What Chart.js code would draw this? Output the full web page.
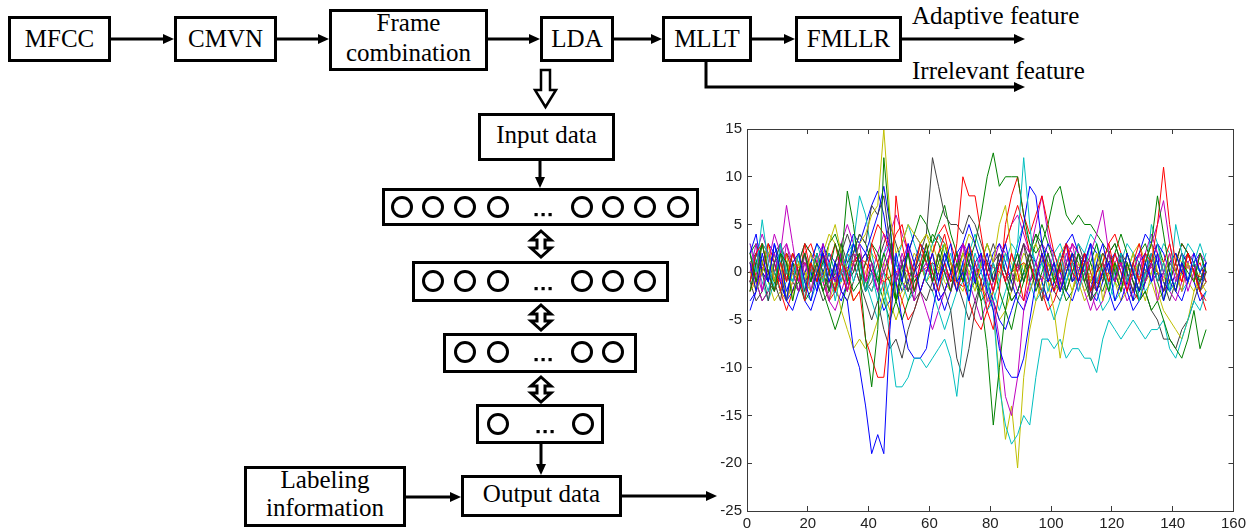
<!DOCTYPE html>
<html><head><meta charset="utf-8">
<script src="https://cdn.jsdelivr.net/npm/chart.js@4"></script>
<style>
html,body{margin:0;padding:0;background:#fff;}
body{width:1255px;height:530px;position:relative;overflow:hidden;}
#diagram{position:absolute;left:0;top:0;}
#chartBox{position:absolute;left:690px;top:100px;width:565px;height:430px;}
</style></head><body>
<svg id="diagram" width="1255" height="530" xmlns="http://www.w3.org/2000/svg">
<g fill="none" stroke="#000" stroke-width="3">
<rect x="9.5" y="17.5" width="100" height="43"/>
<rect x="175.5" y="17.5" width="100" height="43"/>
<rect x="330.5" y="10.5" width="156" height="59"/>
<rect x="541.5" y="17.5" width="71" height="43"/>
<rect x="663.5" y="17.5" width="87" height="43"/>
<rect x="796.5" y="17.5" width="104" height="43"/>
<rect x="479.5" y="114.5" width="134" height="45"/>
<rect x="383.5" y="189.5" width="314" height="35"/>
<rect x="413.5" y="262.5" width="254" height="38"/>
<rect x="444.5" y="334.5" width="191" height="37"/>
<rect x="477.5" y="405.5" width="125" height="37"/>
<rect x="462.5" y="476.5" width="158" height="39"/>
<rect x="245.5" y="467.5" width="159" height="58"/>
</g>
<g id="arrows"></g>
<g id="circles" fill="none" stroke="#000" stroke-width="3"></g>
<g id="dots" fill="#000"></g>
</svg>
<div id="labels"></div>
<div id="chartBox"><canvas id="c" width="565" height="430"></canvas></div>
<script>
// ---------- chart data ----------
var xValues = [1,3,5,7,9,11,13,15,17,19,21,23,25,27,29,31,33,35,37,39,
41,43,45,47,49,51,53,55,57,59,61,63,65,67,69,71,73,75,77,79,
81,83,85,87,89,91,93,95,97,99,101,103,105,107,109,111,113,115,117,119,
121,123,125,127,129,131,133,135,137,139,141,143,145,147,149,151];
var xTicks = [0,20,40,60,80,100,120,140,160];
var yTicks = [-25,-20,-15,-10,-5,0,5,10,15];

var s01 = [1,-2,2,-1,3,0,-3,1,2,-1, -3,0,2,-1,1,-2,-3,-8,-10,-14, -19,-17,-19,-6,2,-1,3,1,-2,0, 2,-1,1,3,-1,0,-3,1,2,-2, -4,-8,-10,-11,-11,-9,-5,-1,2,-1, 1,-2,0,2,-1,1,3,-2,0,1, -3,-1,2,0,-2,1,-1,2,-3,0, -2,1,-1,2,0,1];
var s02 = [2,-1,3,0,-2,2,1,-3,0,2, -1,1,-2,0,3,1,8.5,5,0,-7, -12,-6,12,5,-3,-1,2,-2,0,3, -1,2,0,-2,1,-1,2,0,-3,-8, -16,-10,-4,0,2,-1,1,-2,0,2, -1,1,-2,0,2,-1,1,3,0,-2, 1,-1,2,0,-2,1,3,8,4,0, -2,1,0,-1,2,0];
var s03 = [-1,2,3,0,-2,1,-1,2,0,-3, 1,-1,2,0,-2,1,0,-3,-2,-7, -9,-11,-11,-5,8,3,0,-2,1,3, 0,-2,1,-1,3,10,8,8,4,0, -2,1,-1,2,0,-3,1,-1,2,0, -2,1,3,0,-1,2,-2,0,1,-1, 2,0,-2,1,-1,2,1,5,11,5, 1,-1,2,0,-2,-3];
var s04 = [2,0,5.5,1,-2,3,0,-1,2,-3, 0,2,-1,1,-3,0,2,-1,1,-2, 0,-3,-1,-7,-12,-12,-11,-9,-9,-10, -9,-8,-7,-9,-13,-7,-1,2,0,-2, 1,-1,2,0,3,12,5,-1,1,-2, 0,2,-1,1,-2,0,3,-1,1,-2, 0,2,-1,1,-3,0,2,-1,1,-2, 5,2,-1,1,0,2];
var s05 = [0,3,-2,1,4,2,7,3,-1,2, -2,1,3,0,-1,2,-2,1,3,-1, 1,-2,0,2,-1,1,3,-2,0,1, -1,2,0,-2,1,3,-1,0,2,-3, -3,-7,-13,-15,-11,-4,-1,1,-1,2, 0,-2,1,3,0,-1,2,4,6.5,2, -1,1,-2,0,2,-1,1,-3,0,2, -1,1,-2,0,2,1];
var s06 = [1,-2,0,2,-1,1,-3,0,2,-1, 2,0,-1,3,5,2,0,1,3,4, 6,7,15,6,2,3,5,4,3,4, 2,0,3,1,-1,2,0,-2,1,3, 1,5,7,2,-1,1,-2,0,2,-1, -4,-9,-5,-2,0,1,-1,2,0,-2, 1,-1,2,0,-2,1,3,0,-1,2, 0,-2,1,-1,2,0];
var s07 = [-1,2,0,-3,1,3,-1,2,0,-2, 1,-1,2,0,-2,3,1,2,4,3, 7,6,8,3,-1,1,-2,0,2,4, 12,9,6,5,5,4,6,5,3,1, -1,2,0,-2,1,3,-1,0,2,-1, 1,-2,0,2,-1,1,-3,0,2,1, -1,2,0,-2,1,-1,2,0,-2,1, 0,2,-1,1,-2,0];
var s08 = [2,4,0,-1,3,1,-2,0,2,-1, 0,-2,3,1,-1,2,0,3,1,2, 4,6,9,5,-1,-5,-8,-9,-9,-8, -4,-1,2,0,-2,1,3,-1,0,2, -1,1,3,0,2,5,9,8,3,0, -2,1,3,-1,0,2,-2,1,3,0, -1,2,0,-3,1,2,-1,0,-2,1, 2,0,-1,1,-2,1];
var s09 = [-2,1,3,0,-1,2,-3,1,0,2, -1,2,0,-2,1,3,-1,0,2,-2, 1,-1,2,0,-3,1,2,-1,0,2, -1,1,3,0,2,-1,1,3,6,10, 12.5,9,10,10,10,6,3,2,3,5, 8,9,6,5,6,5,5,4,3,2, 0,-2,1,-1,-3,-2,-4,-3,-5,-7, -8,-9,-7,-4,-8,-6];
var s10 = [2,-1,0,3,1,-2,2,0,-1,3, 0,2,-1,1,3,0,-2,1,2,-1, 3,1,-2,2,4,5,2,0,3,1, -1,2,4,1,-2,0,3,1,-1,-4, -6,-2,5,8,10,6,4,6,8,5, 2,0,3,1,-1,2,0,-2,1,3, 0,2,-1,1,3,0,2,-1,1,3, 0,-1,2,0,1,-1];
var s11 = [-1,2,0,-2,1,3,0,-1,2,-2, 1,-1,2,0,-2,1,-1,3,8,6, 2,-1,0,-3,-1,1,-2,0,2,-1, 1,-2,0,2,-1,1,-3,0,1,-1, -4,-12,-16,-18,-17,-15,-16,-11,-7,-7, -8,-7,-9,-8,-8,-9,-9,-10.5,-7,-5, -6,-7,-6,-5,-6,-7,-6,-6,-5,-8, -9,-7,-5,-3,-4,-2];
var s12 = [3,0,-2,1,2,-1,3,0,-2,1, -1,2,0,-3,1,2,-1,0,2,-2, 0,-2,1,3,-1,2,0,-3,1,0, 2,-1,1,-2,0,3,1,-1,2,0, -2,1,-1,2,0,3,2,5,8,4, 1,-1,2,0,-2,1,3,-1,0,2, -1,1,-2,0,2,1,3,5,7.5,3, 0,-2,1,-1,2,0];
var s13 = [0,-2,1,3,-1,0,2,-3,1,0, -2,1,0,-3,-1,-4,-6,-8,-7,-8, -7,-5,-2,-4,-1,1,-2,0,3,1, -1,2,0,-2,1,-1,3,0,-2,-1, -4,-11,-17.5,-14,-20.5,-11,-6,-3,-1,1, -1,2,0,-2,1,-1,0,2,-3,0, 1,-2,0,2,-1,-3,0,-2,-4,-5, -6,-7,-5,-2,-1,-2];
var s14 = [-2,1,0,2,-1,-3,1,0,-2,2, 0,-1,2,-2,1,0,-2,1,-1,-3, -5,-3,-6,-8,-7,-9,-6,-4,-2,-3, -1,0,-2,-4,-9,-11,-8,-4,-1,1, -1,2,0,-2,1,-1,2,0,-3,1, 0,-2,1,-1,2,0,-3,1,-1,2, 0,-2,1,-1,-3,-2,-4,-5,-7,-7, -8,-6,-5,-3,-1,1];
var s15 = [-3,-2,0,2,1,-1,-3,-4,-2,0, 1,3,2,0,-2,-3,-1,1,3,2, 0,-2,-4,-3,-1,1,2,4,3,1, -1,-3,-2,0,2,3,1,-1,-2,0, 2,3,1,-1,-3,-4,-2,0,1,3, 2,0,-2,-3,-1,1,3,2,0,-2, -4,-3,-1,1,2,4,3,1,-1,-2, 0,2,1,-1,-3,-2];
var s16 = [2,3,1,-1,-2,0,2,1,-1,-3, -2,0,1,3,4,2,0,-2,-1,1, 3,2,0,-1,-3,-5,-3,-1,0,2, 4,3,1,-1,0,2,1,-1,-3,-2, 0,1,-1,-3,-2,0,2,4,3,1, -1,-2,0,2,1,-1,-3,-2,0,2, 3,1,-1,0,2,3,1,-1,-3,-1, 1,3,2,0,-1,1];
var s17 = [0.5,1,0.5,0,-0.5,-1,-0.5,0,0.5,1, 0.5,0,-0.5,-1,-0.5,0,0.5,1,1.5,1, 0,-0.5,-1,-0.5,0,0.5,0,-0.5,0,0.5, 1,0.5,0,-0.5,-1,-1.5,-1,0,0.5,1, 0.5,0,-0.5,0,0.5,1,0.5,0,-0.5,-1, -0.5,0,0.5,1,0.5,0,-0.5,-1,-0.5,0, 0.5,1,0.5,0,-0.5,0,0.5,0,-0.5,-1, -0.5,0,0.5,0,-0.5,0];
var s18 = [-1,1,3,2,0,-2,-1,1,0,-2, -3,-1,1,2,0,-1,1,3,1,-1, -2,0,2,3,1,-1,-3,-2,0,1, 3,4,2,0,-2,-1,1,0,-2,-4, -3,-1,1,3,2,0,-1,-3,-2,0, 2,3,1,-1,0,2,4,3,1,-1, -3,-2,0,2,1,-1,5,3,0,-2, -1,1,3,2,0,-1];
var s19 = [1,-1,-3,-2,0,2,3,1,-1,0, 2,1,-1,-3,-4,-2,0,2,1,-1, 0,2,4,3,1,-1,-2,0,2,1, -1,-3,-2,0,1,3,2,0,-2,-1, 1,3,2,0,-2,-3,-1,1,3,2, 0,-1,1,3,2,0,-2,-4,-3,-1, 1,2,0,-2,-1,1,3,2,0,-2, -3,-1,1,2,0,-1];
var s20 = [-2,-1,1,2,0,-2,-3,-1,1,0, -1,1,2,0,-2,-1,1,2,1,-1, -2,0,1,-1,-3,-2,0,2,1,-1, 0,2,3,1,-1,-2,0,1,-1,-3, -2,0,2,1,-1,0,2,3,1,-1, -2,-1,1,2,0,-2,-1,1,2,0, -1,-3,-2,0,1,-1,0,2,1,-1, -2,0,1,-1,-2,-1];
var s21 = [1,2,0,-1,1,2,0,-2,-1,1, 0,-1,1,2,0,-2,-3,-1,1,2, 1,-1,0,2,1,-1,-2,0,1,-1, -2,0,2,1,-1,0,1,-1,-2,0, 1,2,0,-1,1,3,1,-1,-2,0, 1,-1,-2,0,2,1,-1,0,1,-1, 0,2,1,-1,-2,0,1,-1,0,1, 2,0,-1,1,0,-1];
var s22 = [-4,-2,1,3,2,-1,-3,-2,0,-3, -4,-2,0,2,1,-1,2,4,3,5, 7,8.5,6,2,0,-2,-1,1,3,2, 0,-2,-4,-2,1,3,5,3,1,-1, -3,-5,-6,-4,-2,0,2,1,-1,-3, -1,1,3,4,2,0,-2,-3,-1,1, 2,0,-2,-4,-3,-1,1,3,2,0, -2,-3,-1,1,2,0];
var s23 = [1,-1,-3,-2,0,2,1,-1,1,3, 2,0,-2,-4,-6,-4,-1,2,4,3, 1,-1,-3,-5,-3,0,2,4,6,5, 3,5,7,4,2,0,-2,-1,1,3, 1,-2,-4,-6,-3,-1,1,3,5,3, 1,-1,-3,-2,0,2,1,-1,-2,0, 2,4,2,0,-2,-1,1,3,1,-1, -2,0,2,1,-1,0];
var s24 = [-2,0,3,2,0,-2,-4,-2,0,2, 3,1,-1,-3,-2,0,2,1,-1,1, 3,5,4,2,-1,-3,-5,-4,-2,0, 2,4,5,3,1,-1,-3,-5,-6,-4, -2,1,3,5,7,5,2,0,-2,-4, -3,-1,1,3,2,0,-2,-1,1,3, 4,2,0,-2,-3,-1,1,0,-2,-1, 1,3,2,0,-2,-4];
var s25 = [3,1,-1,-3,-1,1,2,0,-2,-1, 1,3,1,-1,-2,0,2,3,1,-1, -3,-5,-3,-1,1,3,5,3,1,-1, -2,-4,-6,-4,-2,0,2,4,2,0, -2,-4,-2,0,3,5,3,1,-1,-3, -5,-3,-1,1,3,2,0,-2,-4,-3, -1,1,3,2,0,-2,-1,1,3,2, 0,-2,-1,1,3,1];
var s26 = [-1,2,4,2,0,-2,-3,-1,1,3, 2,0,-2,-1,1,3,5,3,1,-1, -2,0,2,4,6,4,2,0,-2,-4, -6,-4,-2,0,2,1,-1,-3,-5,-3, -1,1,3,5,6,4,2,0,-2,-3, -1,1,3,2,0,-2,-4,-2,0,2, 1,-1,-3,-2,0,2,4,2,0,-1, 1,3,2,0,-2,-1];
var s27 = [0,2,1,-1,-3,-2,0,2,1,-1, -2,0,2,4,3,1,-1,-3,-2,0, 2,1,-1,-3,-5,-3,-1,1,3,4, 3,1,-1,-2,0,2,4,3,1,-1, -3,-5,-4,-2,0,2,1,-1,-3,-2, 0,2,3,1,-1,-3,-2,0,2,1, -1,-2,0,2,3,1,-1,-3,-2,0, 2,1,-1,-2,0,1];
var s28 = [-1,-3,-2,0,2,3,1,-1,-2,0, 1,-1,-3,-2,0,2,4,2,0,-2, -1,1,3,5,3,1,-1,-3,-2,0, 2,4,3,1,-1,-3,-5,-3,-1,1, 3,1,-1,-3,-2,0,2,4,2,0, -2,-3,-1,1,3,1,-1,-2,0,2, 3,1,-1,-3,-2,0,2,1,-1,-3, -1,1,2,0,-2,-1];

var seriesList = [s01,s02,s03,s04,s05,s06,s07,s08,s09,s10,s11,s12,s13,s14,s15,s16,s17,s18,s19,s20,s21,s22,s23,s24,s25,s26,s27,s28];
var palette = ['#0000ff','#008000','#ff0000','#00bfbf','#bf00bf','#bfbf00','#404040'];

// ---------- diagram labels ----------
var SERIF = "font-family:'Liberation Serif',serif;font-size:25px;line-height:30px;color:#000;white-space:nowrap;position:absolute;";
var labelSpecs = [
  ['MFCC',59.5,24,1],['CMVN',225.5,24,1],['Frame',408.5,8,1],['combination',408.5,38,1],
  ['LDA',577,24,1],['MLLT',707,24,1],['FMLLR',848.5,24,1],
  ['Adaptive feature',912,1,0],['Irrelevant feature',912,56,0],
  ['Input data',546.5,120,1],['Output data',541.5,479,1],['Labeling',325,465,1],['information',325,493,1]
];
(function(){
  var host=document.getElementById('labels');
  for(var i=0;i<labelSpecs.length;i++){
    var s=labelSpecs[i]; var d=document.createElement('div');
    d.textContent=s[0];
    d.setAttribute('style',SERIF+'left:'+s[1]+'px;top:'+s[2]+'px;'+(s[3]?'transform:translateX(-50%);':''));
    host.appendChild(d);
  }
})();

// ---------- diagram decorations ----------
var NS='http://www.w3.org/2000/svg';
function svgEl(tag,attrs,parent){var e=document.createElementNS(NS,tag);for(var k in attrs)e.setAttribute(k,attrs[k]);parent.appendChild(e);return e;}
(function(){
  var ga=document.getElementById('arrows');
  function harrow(x1,x2,y){svgEl('line',{x1:x1,y1:y,x2:x2-9,y2:y,stroke:'#000','stroke-width':3},ga);svgEl('polygon',{points:x2+','+y+' '+(x2-11)+','+(y-5)+' '+(x2-11)+','+(y+5),fill:'#000'},ga);}
  function varrow(x,y1,y2){svgEl('line',{x1:x,y1:y1,x2:x,y2:y2-9,stroke:'#000','stroke-width':3},ga);svgEl('polygon',{points:x+','+y2+' '+(x-5)+','+(y2-11)+' '+(x+5)+','+(y2-11),fill:'#000'},ga);}
  harrow(111,174,39); harrow(277,329,39); harrow(488,540,39); harrow(614,662,39);
  harrow(752,795,39); harrow(902,1025,39);
  svgEl('polyline',{points:'706,62 706,87 1016,87',fill:'none',stroke:'#000','stroke-width':3},ga);
  svgEl('polygon',{points:'1025,87 1014,82 1014,92',fill:'#000'},ga);
  svgEl('polygon',{points:'541,70 550,70 550,90 556,90 545.5,107 535,90 541,90',fill:'#fff',stroke:'#000','stroke-width':2.5},ga);
  varrow(540,161,188);
  function darrow(cx,t,b){var p=[[cx,t],[cx+10,t+9],[cx+4,t+9],[cx+4,b-9],[cx+10,b-9],[cx,b],[cx-10,b-9],[cx-4,b-9],[cx-4,t+9],[cx-10,t+9]];
    svgEl('polygon',{points:p.map(function(q){return q[0]+','+q[1];}).join(' '),fill:'#fff',stroke:'#000','stroke-width':3},ga);}
  darrow(541,231,257); darrow(541,305,330); darrow(541,377,402);
  varrow(541,444,475);
  harrow(406,461,497);
  harrow(622,717,496);
  var gc=document.getElementById('circles');
  var gd=document.getElementById('dots');
  var layers=[[207,[402,433,465,498,582,613,645,678],543],[281,[433,465,498,582,613,645],543],[352,[465,498,582,613],543],[424,[498,583],545]];
  layers.forEach(function(L){var cy=L[0],dx=L[2];L[1].forEach(function(cx){svgEl('circle',{cx:cx,cy:cy,r:9.5},gc);});[-7,0,7].forEach(function(o){svgEl('rect',{x:dx+o-1.5,y:cy+6,width:3.2,height:3.2},gd);});});
})();

// ---------- chart ----------
var datasets = seriesList.map(function(ys,i){
  return {
    data: ys.map(function(y,j){return {x:xValues[j], y:y};}),
    borderColor: palette[i%palette.length],
    borderWidth: 1,
    pointRadius: 0,
    tension: 0,
    fill: false
  };
});

var frameColor = '#3a3a3a';
var tickFont = {family:'Liberation Sans', size:15};
// inward tick marks (negative tickLength) + axis borders drawn by Chart.js itself
var innerGrid = {display:true, drawOnChartArea:false, drawTicks:true, tickLength:-5, color:frameColor, lineWidth:1};
var axisBorder = {display:true, color:frameColor, width:1};

var framePlugin = {
  id:'frame',
  afterDraw:function(chart){
    var ctx=chart.ctx, a=chart.chartArea;
    ctx.save();
    ctx.strokeStyle=frameColor; ctx.lineWidth=1;
    ctx.strokeRect(Math.round(a.left)+0.5, Math.round(a.top)+0.5, Math.round(a.right-a.left), Math.round(a.bottom-a.top));
    ctx.restore();
  }
};

var chart = new Chart(document.getElementById('c'), {
  type:'line',
  data:{datasets:datasets},
  options:{
    responsive:false, animation:false, devicePixelRatio:1,
    layout:{padding:{top:29,right:17,left:0,bottom:0}},
    plugins:{legend:{display:false},tooltip:{enabled:false}},
    scales:{
      x:{type:'linear',position:'bottom',min:0,max:160,
        afterBuildTicks:function(s){s.ticks=xTicks.map(function(v){return {value:v};});},
        afterFit:function(s){s.height=18;},
        grid:innerGrid, border:axisBorder,
        ticks:{padding:9,color:'#222',font:tickFont,maxRotation:0,autoSkip:false}},
      y:{type:'linear',position:'left',min:-25,max:15,
        afterBuildTicks:function(s){s.ticks=yTicks.map(function(v){return {value:v};});},
        afterFit:function(s){s.width=57;},
        grid:innerGrid, border:axisBorder,
        ticks:{padding:10,color:'#222',font:tickFont,autoSkip:false}},
      xTop:{type:'linear',position:'top',min:0,max:160,
        afterBuildTicks:function(s){s.ticks=xTicks.map(function(v){return {value:v};});},
        afterFit:function(s){s.height=0;},
        grid:innerGrid, border:axisBorder, ticks:{display:false}},
      yRight:{type:'linear',position:'right',min:-25,max:15,
        afterBuildTicks:function(s){s.ticks=yTicks.map(function(v){return {value:v};});},
        afterFit:function(s){s.width=0;},
        grid:innerGrid, border:axisBorder, ticks:{display:false}}
    }
  },
  plugins:[framePlugin]
});
</script>
</body></html>
